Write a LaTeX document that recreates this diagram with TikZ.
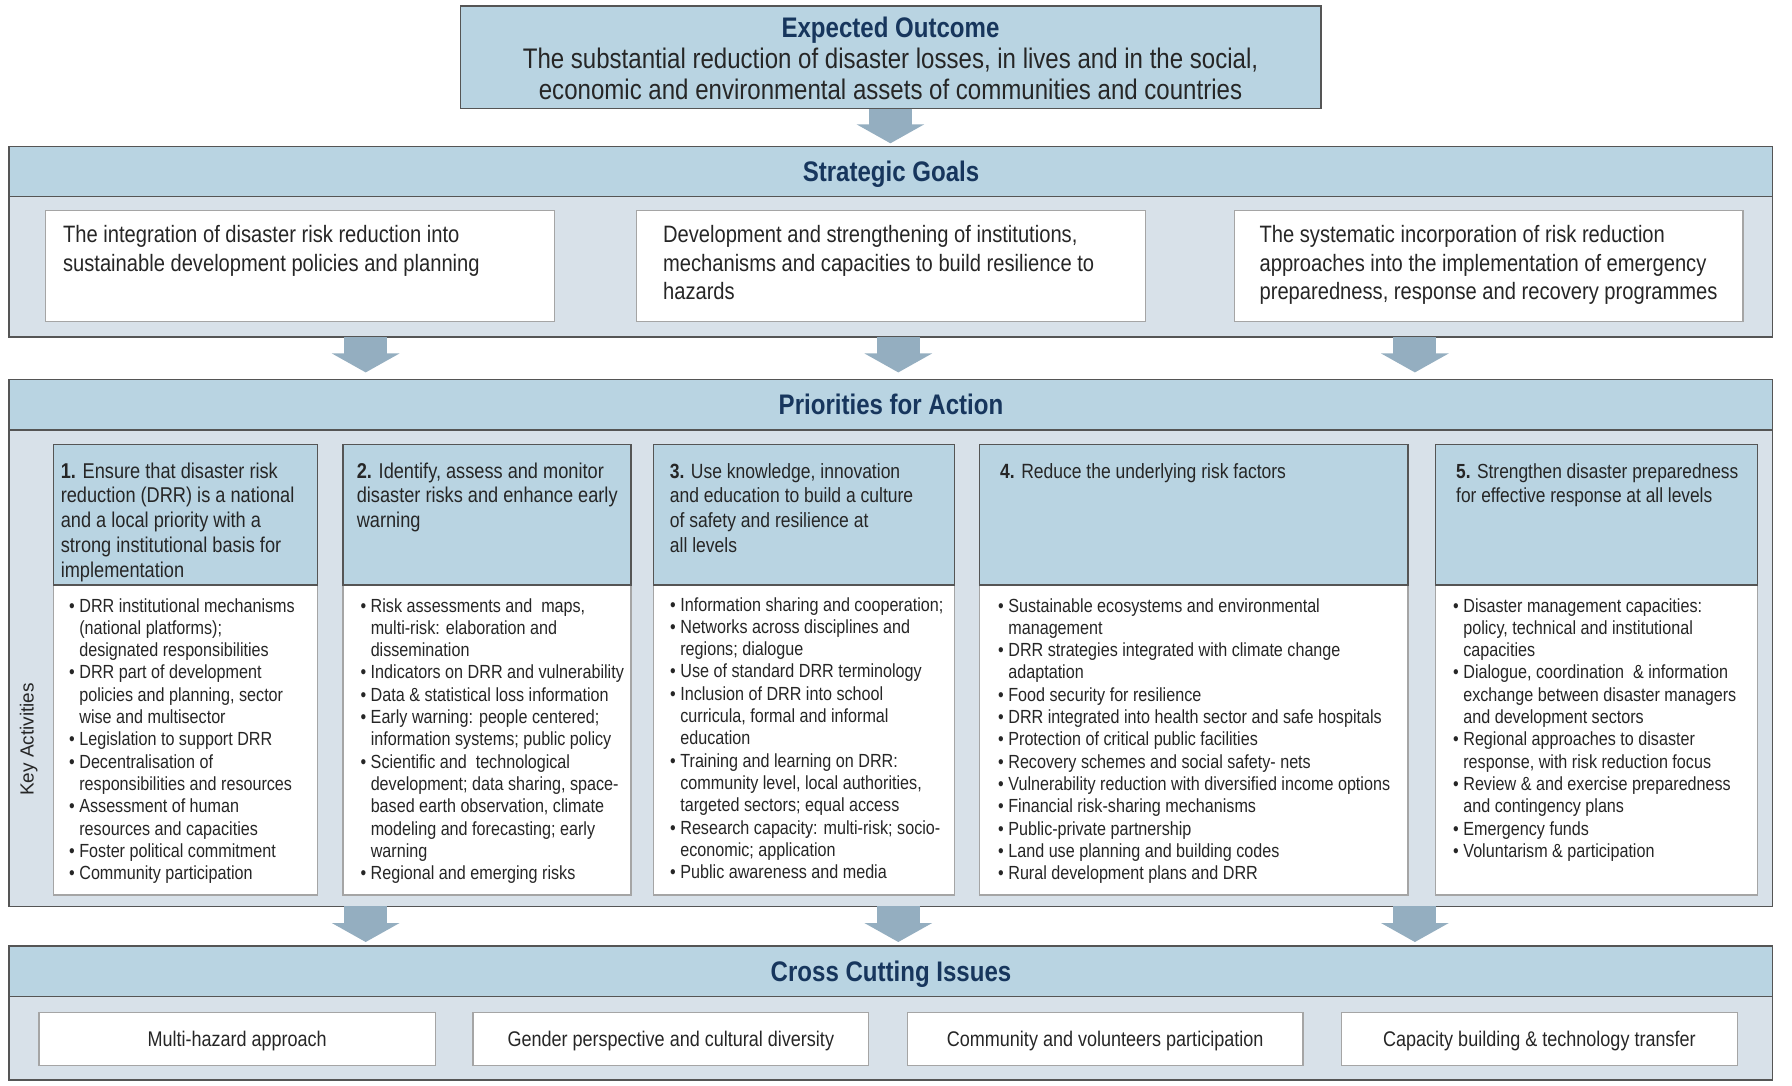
\documentclass[tikz,border=0pt]{standalone}
\usepackage{fontspec}
\setmainfont{Liberation Sans}
\newfontfamily\cond{Liberation Sans}[FakeStretch=0.85]
\usetikzlibrary{arrows.meta,calc}
\definecolor{band}{RGB}{185,212,226}
\definecolor{panelbg}{RGB}{216,225,233}
\definecolor{arrowc}{RGB}{148,174,192}
\definecolor{navy}{RGB}{23,54,93}
\definecolor{txt}{RGB}{38,38,38}
\definecolor{edge}{RGB}{85,85,85}
\definecolor{lightedge}{RGB}{165,165,165}
\newcommand\fs[2]{\fontsize{#1}{#2}\selectfont}
\newcommand\lns[3]{\cond\fs{#1}{#2}\begin{tabular}[t]{@{}l@{}}#3\end{tabular}}
\newcommand\clns[3]{\cond\fs{#1}{#2}\begin{tabular}[t]{@{}c@{}}#3\end{tabular}}
\newcommand\blist[1]{\cond\fs{19}{22.3}\begin{tabular}[t]{@{}l@{\hspace{4.5pt}}l@{}}#1\end{tabular}}
\begin{document}
\begin{tikzpicture}[x=1pt,y=-1pt,
  wh/.style 2 args={minimum width=#1, minimum height=#2},
  panel/.style={draw=edge, line width=1.6pt, fill=panelbg, anchor=north west, inner sep=0pt, outer sep=0pt},
  bandbox/.style={draw=edge, line width=1.6pt, fill=band, anchor=north west, inner sep=0pt, outer sep=0pt},
  whitebox/.style={draw=lightedge, line width=1.2pt, fill=white, anchor=north west, inner sep=0pt, outer sep=0pt},
  phead/.style={draw=edge, line width=1.4pt, fill=band, anchor=north west, inner sep=0pt, outer sep=0pt},
  title/.style={anchor=base, inner sep=0pt, text=navy, font=\cond\bfseries\fs{28.3}{31}},
  txtnode/.style={anchor=base west, inner sep=0pt, text=txt},
  ctxt/.style={anchor=base, inner sep=0pt, text=txt},
  bigarrow/.style={draw=arrowc, line width=43pt, -{Triangle[width=67pt 0 0,length=19pt 0 0]}},
]
\useasboundingbox (0,0) rectangle (1792,1085);
\fill[white] (0,0) rectangle (1792,1085);

% ---------- boxes (nodes) ----------
\node[bandbox, wh={860.5}{102.9}] (eo) at (460.6,5.7) {};

\node[panel, wh={1763.5}{190.8}] (sgp) at (9.1,146.3) {};
\node[bandbox, wh={1763.5}{50.3}] (sgh) at (9.1,146.3) {};
\node[whitebox, wh={508.6}{110.8}] (g1) at (45.7,210.3) {};
\node[whitebox, wh={508.5}{110.8}] (g2) at (636.6,210.3) {};
\node[whitebox, wh={508.6}{110.8}] (g3) at (1234.3,210.3) {};

\node[panel, wh={1763.5}{526.9}] (pap) at (9.1,379.4) {};
\node[bandbox, wh={1763.5}{50.3}] (pah) at (9.1,379.4) {};
\node[whitebox, wh={264}{309.8}] (b1) at (53.7,585.1) {};
\node[whitebox, wh={288}{309.8}] (b2) at (342.9,585.1) {};
\node[whitebox, wh={300.6}{309.8}] (b3) at (653.7,585.1) {};
\node[whitebox, wh={428.6}{309.8}] (b4) at (979.4,585.1) {};
\node[whitebox, wh={322.3}{309.8}] (b5) at (1435.4,585.1) {};
\node[phead, wh={264}{140.5}] (h1) at (53.7,444.6) {};
\node[phead, wh={288}{140.5}] (h2) at (342.9,444.6) {};
\node[phead, wh={300.6}{140.5}] (h3) at (653.7,444.6) {};
\node[phead, wh={428.6}{140.5}] (h4) at (979.4,444.6) {};
\node[phead, wh={322.3}{140.5}] (h5) at (1435.4,444.6) {};

\node[panel, wh={1763.5}{134}] (ccp) at (9.1,946) {};
\node[bandbox, wh={1763.5}{50.6}] (cch) at (9.1,946) {};
\node[whitebox, wh={396.5}{52.5}] (c1) at (38.9,1012.6) {};
\node[whitebox, wh={395.6}{52.5}] (c2) at (473,1012.6) {};
\node[whitebox, wh={395.5}{52.5}] (c3) at (907.4,1012.6) {};
\node[whitebox, wh={395.4}{52.5}] (c4) at (1341.7,1012.6) {};

% ---------- arrows ----------
\draw[bigarrow, shorten >=3pt] (890.4,0 |- eo.south) -- (890.4,0 |- sgp.north);
\draw[bigarrow, shorten >=7pt] (365.7,0 |- sgp.south) -- (365.7,0 |- pap.north);
\draw[bigarrow, shorten >=7pt] (898.3,0 |- sgp.south) -- (898.3,0 |- pap.north);
\draw[bigarrow, shorten >=7pt] (1414.9,0 |- sgp.south) -- (1414.9,0 |- pap.north);
\draw[bigarrow, shorten >=4pt] (365.7,0 |- pap.south) -- (365.7,0 |- ccp.north);
\draw[bigarrow, shorten >=4pt] (898.3,0 |- pap.south) -- (898.3,0 |- ccp.north);
\draw[bigarrow, shorten >=4pt] (1414.9,0 |- pap.south) -- (1414.9,0 |- ccp.north);

% ---------- texts ----------
\node[title] (eot) at (890.5,37.5) {Expected Outcome};
\node[ctxt] (eol) at (890.5,68.4) {\clns{28.3}{31}{The substantial reduction of disaster losses, in lives and in the social,\\economic and environmental assets of communities and countries}};

\node[title] (sgt) at (891,181.5) {Strategic Goals};
\node[txtnode] (g1t) at (62.9,242.8) {\lns{23.7}{28.5}{The integration of disaster risk reduction into\\sustainable development policies and planning}};
\node[txtnode] (g2t) at (662.9,242.8) {\lns{23.7}{28.5}{Development and strengthening of institutions,\\mechanisms and capacities to build resilience to\\hazards}};
\node[txtnode] (g3t) at (1259.4,242.8) {\lns{23.7}{28.5}{The systematic incorporation of risk reduction\\approaches into the implementation of emergency\\preparedness, response and recovery programmes}};

\node[title] (pat) at (891,414.5) {Priorities for Action};
\node[txtnode] (h1t) at (60.6,478) {\lns{21.4}{24.8}{\textbf{1.} Ensure that disaster risk\\reduction (DRR) is a national\\and a local priority with a\\strong institutional basis for\\implementation}};
\node[txtnode] (h2t) at (356.6,478) {\lns{21.4}{24.8}{\textbf{2.} Identify, assess and monitor\\disaster risks and enhance early\\warning}};
\node[txtnode] (h3t) at (669.7,478) {\lns{20.6}{24.8}{\textbf{3.} Use knowledge, innovation\\and education to build a culture\\of safety and resilience at\\all levels}};
\node[txtnode] (h4t) at (1000,478) {\lns{20.6}{24.8}{\textbf{4.} Reduce the underlying risk factors}};
\node[txtnode] (h5t) at (1456,478) {\lns{20.4}{24.8}{\textbf{5.} Strengthen disaster preparedness\\for effective response at all levels}};

\node[txtnode] (b1t) at (69,612) {\blist{%
\textbullet & DRR institutional mechanisms\\
 & (national platforms);\\
 & designated responsibilities\\
\textbullet & DRR part of development\\
 & policies and planning, sector\\
 & wise and multisector\\
\textbullet & Legislation to support DRR\\
\textbullet & Decentralisation of\\
 & responsibilities and resources\\
\textbullet & Assessment of human\\
 & resources and capacities\\
\textbullet & Foster political commitment\\
\textbullet & Community participation}};

\node[txtnode] (b2t) at (360.4,612) {\blist{%
\textbullet & Risk assessments and\ \ maps,\\
 & multi-risk: elaboration and\\
 & dissemination\\
\textbullet & Indicators on DRR and vulnerability\\
\textbullet & Data \& statistical loss information\\
\textbullet & Early warning: people centered;\\
 & information systems; public policy\\
\textbullet & Scientific and\ \ technological\\
 & development; data sharing, space-\\
 & based earth observation, climate\\
 & modeling and forecasting; early\\
 & warning\\
\textbullet & Regional and emerging risks}};

\node[txtnode] (b3t) at (670,611) {\blist{%
\textbullet & Information sharing and cooperation;\\
\textbullet & Networks across disciplines and\\
 & regions; dialogue\\
\textbullet & Use of standard DRR terminology\\
\textbullet & Inclusion of DRR into school\\
 & curricula, formal and informal\\
 & education\\
\textbullet & Training and learning on DRR:\\
 & community level, local authorities,\\
 & targeted sectors; equal access\\
\textbullet & Research capacity: multi-risk; socio-\\
 & economic; application\\
\textbullet & Public awareness and media}};

\node[txtnode] (b4t) at (998,612) {\blist{%
\textbullet & Sustainable ecosystems and environmental\\
 & management\\
\textbullet & DRR strategies integrated with climate change\\
 & adaptation\\
\textbullet & Food security for resilience\\
\textbullet & DRR integrated into health sector and safe hospitals\\
\textbullet & Protection of critical public facilities\\
\textbullet & Recovery schemes and social safety- nets\\
\textbullet & Vulnerability reduction with diversified income options\\
\textbullet & Financial risk-sharing mechanisms\\
\textbullet & Public-private partnership\\
\textbullet & Land use planning and building codes\\
\textbullet & Rural development plans and DRR}};

\node[txtnode] (b5t) at (1453,612) {\blist{%
\textbullet & Disaster management capacities:\\
 & policy, technical and institutional\\
 & capacities\\
\textbullet & Dialogue, coordination\ \ \& information\\
 & exchange between disaster managers\\
 & and development sectors\\
\textbullet & Regional approaches to disaster\\
 & response, with risk reduction focus\\
\textbullet & Review \& and exercise preparedness\\
 & and contingency plans\\
\textbullet & Emergency funds\\
\textbullet & Voluntarism \& participation}};

\node[rotate=90, inner sep=0pt, text=txt, font=\fs{19}{22}] (ka) at (28.6,739.4) {Key Activities};

\node[title] (cct) at (891,981.5) {Cross Cutting Issues};
\node[ctxt] (c1t) at ($(c1.center)+(0,7.6)$) {\cond\fs{21.2}{24}Multi-hazard approach};
\node[ctxt] (c2t) at ($(c2.center)+(0,7.6)$) {\cond\fs{21.2}{24}Gender perspective and cultural diversity};
\node[ctxt] (c3t) at ($(c3.center)+(0,7.6)$) {\cond\fs{21.2}{24}Community and volunteers participation};
\node[ctxt] (c4t) at ($(c4.center)+(0,7.6)$) {\cond\fs{21.2}{24}Capacity building \& technology transfer};
\end{tikzpicture}
\end{document}
